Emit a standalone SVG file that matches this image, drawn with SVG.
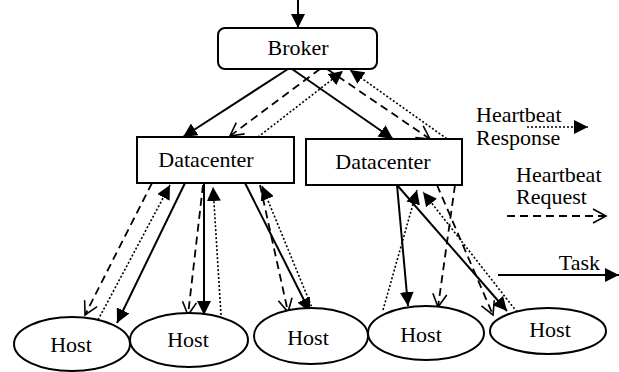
<svg xmlns="http://www.w3.org/2000/svg" width="619" height="372" viewBox="0 0 619 372">
  <defs>
    <marker id="filled" markerUnits="userSpaceOnUse" markerWidth="16" markerHeight="14" refX="14" refY="7" orient="auto">
      <path d="M0,0 L14,7 L0,14 z" fill="#000"/>
    </marker>
    <marker id="open" markerUnits="userSpaceOnUse" markerWidth="16" markerHeight="18" refX="14" refY="8" orient="auto">
      <path d="M1,1 L14,8 L1,15" fill="none" stroke="#000" stroke-width="1.6"/>
    </marker>
  </defs>
  <style>
    .box { fill: #fff; stroke: #000; stroke-width: 2; }
    .lbl { font-size: 22px; fill: #000; }
    .task { fill: none; stroke: #000; stroke-width: 2; marker-end: url(#filled); }
    .req { fill: none; stroke: #000; stroke-width: 1.8; stroke-dasharray: 8 5; marker-end: url(#open); }
    .resp { fill: none; stroke: #000; stroke-width: 1.6; stroke-dasharray: 2 2; marker-end: url(#filled); }
  </style>

  <!-- connectors -->
  <g id="connectors">
    <!-- entry into broker -->
    <line class="task" x1="298" y1="0" x2="298" y2="28"/>
    <!-- broker <-> datacenters -->
    <line class="task" x1="288" y1="69" x2="183" y2="137"/>
    <line class="task" x1="292" y1="69" x2="393" y2="139"/>
    <line class="req" x1="320" y1="69" x2="230" y2="136"/>
    <line class="resp" x1="258" y1="137" x2="343" y2="71"/>
    <line class="req" x1="327" y1="69" x2="430" y2="139"/>
    <line class="resp" x1="450" y1="141" x2="350" y2="70"/>
    <!-- left datacenter <-> hosts -->
    <line class="req" x1="152" y1="183" x2="85" y2="315"/>
    <line class="resp" x1="98" y1="320" x2="170" y2="185"/>
    <line class="task" x1="185" y1="183" x2="117" y2="323"/>
    <line class="req" x1="203" y1="185" x2="188" y2="315"/>
    <line class="task" x1="204" y1="183" x2="204" y2="315"/>
    <line class="resp" x1="221" y1="315" x2="213" y2="187"/>
    <line class="req" x1="260" y1="185" x2="288" y2="312"/>
    <line class="resp" x1="313" y1="310" x2="262" y2="186"/>
    <line class="task" x1="245" y1="183" x2="310" y2="312"/>
    <!-- right datacenter <-> hosts -->
    <line class="task" x1="397" y1="185" x2="408" y2="306"/>
    <line class="resp" x1="383" y1="310" x2="417" y2="190"/>
    <line class="req" x1="455" y1="185" x2="438" y2="307"/>
    <line class="task" x1="397" y1="185" x2="507" y2="311"/>
    <line class="req" x1="437" y1="185" x2="493" y2="315"/>
    <line class="resp" x1="517" y1="312" x2="423" y2="192"/>
    <!-- legend arrows -->
    <line class="resp" x1="527" y1="127" x2="588" y2="127"/>
    <line class="req" x1="507" y1="216" x2="606" y2="216"/>
    <line class="task" x1="498" y1="275" x2="619" y2="275"/>
  </g>

  <g font-family="'Liberation Serif', 'DejaVu Serif', serif">
    <g id="broker">
      <rect class="box" x="218" y="28" width="159" height="41" rx="7"/>
      <text class="lbl" x="298" y="55" text-anchor="middle">Broker</text>
    </g>
    <g id="datacenter-1">
      <rect class="box" x="137" y="137" width="157" height="46"/>
      <text class="lbl" x="206" y="167" text-anchor="middle">Datacenter</text>
    </g>
    <g id="datacenter-2">
      <rect class="box" x="306" y="139" width="156" height="46"/>
      <text class="lbl" x="383" y="169" text-anchor="middle">Datacenter</text>
    </g>
    <g id="host-1">
      <ellipse class="box" cx="72" cy="344" rx="58" ry="27"/>
      <text class="lbl" x="71" y="352" text-anchor="middle">Host</text>
    </g>
    <g id="host-2">
      <ellipse class="box" cx="189" cy="340" rx="59" ry="27"/>
      <text class="lbl" x="188" y="347" text-anchor="middle">Host</text>
    </g>
    <g id="host-3">
      <ellipse class="box" cx="311" cy="336" rx="57" ry="28"/>
      <text class="lbl" x="308" y="345" text-anchor="middle">Host</text>
    </g>
    <g id="host-4">
      <ellipse class="box" cx="426" cy="333" rx="58" ry="27"/>
      <text class="lbl" x="421" y="342" text-anchor="middle">Host</text>
    </g>
    <g id="host-5">
      <ellipse class="box" cx="548" cy="331" rx="58" ry="23"/>
      <text class="lbl" x="550" y="337" text-anchor="middle">Host</text>
    </g>
    <g id="legend">
      <text class="lbl" x="476" y="122">Heartbeat</text>
      <text class="lbl" x="476" y="145">Response</text>
      <text class="lbl" x="516" y="182">Heartbeat</text>
      <text class="lbl" x="516" y="204">Request</text>
      <text class="lbl" x="600" y="270" text-anchor="end">Task</text>
    </g>
  </g>
</svg>
